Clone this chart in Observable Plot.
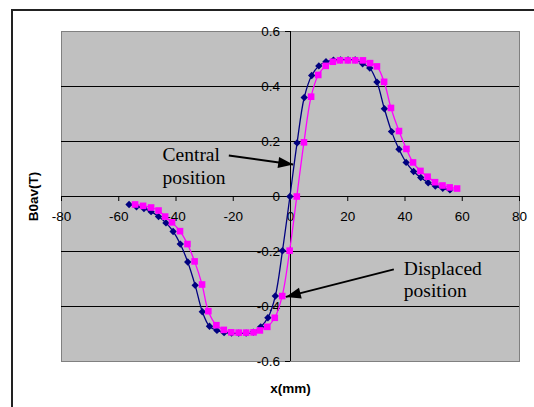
<!DOCTYPE html>
<html><head><meta charset="utf-8">
<script src="https://cdn.jsdelivr.net/npm/d3@7"></script>
<script src="https://cdn.jsdelivr.net/npm/@observablehq/plot@0.6"></script>
<style>
html,body{margin:0;padding:0;background:#fff;}
body{width:534px;height:407px;overflow:hidden;position:relative;font-family:"Liberation Sans",Arial,sans-serif;}
#chart{position:absolute;left:0;top:0;}
#outer{position:absolute;left:11px;top:9px;width:600px;height:460px;border:2px solid #222;box-sizing:border-box;pointer-events:none;}
</style></head>
<body><div id="chart"></div><div id="outer"></div>
<script>
// Central position (navy diamonds)
const centralX = [-56.4,-53.8,-51.2,-48.7,-46.1,-43.5,-41.0,-38.5,-35.9,-33.3,-30.8,-28.3,-25.7,-23.2,-20.6,-18.1,-15.5,-13.0,-10.4,-7.9,-5.3,-2.8,-0.2,2.3,4.8,7.4,9.9,12.4,15.0,17.5,20.1,22.6,25.2,27.7,30.2,32.8,35.3,37.9,40.4,43.0,45.5,48.1,50.6,53.2,55.7];
const centralY = [-0.029,-0.037,-0.044,-0.055,-0.073,-0.096,-0.127,-0.173,-0.238,-0.323,-0.419,-0.472,-0.487,-0.495,-0.497,-0.497,-0.497,-0.493,-0.474,-0.441,-0.362,-0.197,0.0,0.195,0.360,0.440,0.475,0.490,0.496,0.497,0.497,0.497,0.483,0.467,0.416,0.319,0.236,0.172,0.124,0.091,0.069,0.050,0.038,0.030,0.024];
// Displaced position (magenta squares)
const displacedX = [-54.3,-51.5,-48.7,-46.1,-43.8,-41.4,-38.6,-36.0,-33.5,-30.9,-28.7,-25.9,-23.3,-20.7,-18.1,-15.5,-12.9,-10.7,-8.1,-5.5,-2.9,-0.3,2.2,4.7,7.2,9.7,12.3,14.8,17.3,20.0,22.6,25.3,27.8,30.2,32.7,35.1,37.9,40.5,42.8,45.4,47.9,50.5,53.1,55.6,58.2];
const displacedY = [-0.029,-0.034,-0.040,-0.051,-0.073,-0.094,-0.126,-0.173,-0.236,-0.320,-0.417,-0.468,-0.485,-0.494,-0.495,-0.495,-0.494,-0.487,-0.474,-0.441,-0.362,-0.197,0.0,0.197,0.363,0.442,0.475,0.490,0.495,0.495,0.495,0.495,0.485,0.473,0.417,0.322,0.238,0.173,0.124,0.093,0.072,0.052,0.040,0.033,0.029];

const xTicks = [-80,-60,-40,-20,0,20,40,60,80];
const yTicks = [-0.6,-0.4,-0.2,0,0.2,0.4,0.6];
const gridY = [-0.4,-0.2,0.2,0.4];
const xLabel = "x(mm)";
const yLabel = "B0av(T)";

// Annotations (in data units)
const noteText = ["Central","position","Displaced","position"];
const noteX = [-44.7,-44.7,39.6,39.6];
const noteY = [0.153,0.069,-0.262,-0.341];
const arrowX1 = [-21.55, 36.1];
const arrowY1 = [0.149, -0.265];
const arrowX2 = [0.94, -1.64];
const arrowY2 = [0.116, -0.365];

const W = 534, H = 407;
const mL = 61, mR = 15, mT = 31, mB = 46;
const xDomain = [-80, 80], yDomain = [-0.6, 0.6];
const sx = d3.scaleLinear(xDomain, [mL, W - mR]);
const sy = d3.scaleLinear(yDomain, [H - mB, mT]);

const central = centralX.map((x, i) => ({x, y: centralY[i]}));
const displaced = displacedX.map((x, i) => ({x, y: displacedY[i]}));
const notes = noteText.map((t, i) => ({t, x: noteX[i], y: noteY[i]}));
const arrows = arrowX1.map((x1, i) => {
  const x2 = arrowX2[i], y1 = arrowY1[i], y2 = arrowY2[i];
  const dx = sx(x2) - sx(x1), dy = sy(y2) - sy(y1);
  return {x1, y1, x2, y2, angle: Math.atan2(dx, -dy) * 180 / Math.PI};
});

const diamond = {draw(c){ const r = 3.7; c.moveTo(0,-r); c.lineTo(r,0); c.lineTo(0,r); c.lineTo(-r,0); c.closePath(); }};
const square = {draw(c){ const h = 3.3; c.moveTo(-h,-h); c.lineTo(h,-h); c.lineTo(h,h); c.lineTo(-h,h); c.closePath(); }};
const head = {draw(c){ c.moveTo(0,0); c.lineTo(-5.5,15); c.lineTo(5.5,15); c.closePath(); }};

const chart = Plot.plot({
  width: W, height: H,
  marginLeft: mL, marginRight: mR, marginTop: mT, marginBottom: mB,
  x: {domain: xDomain},
  y: {domain: yDomain},
  style: {fontFamily: "'Liberation Sans', Arial, sans-serif", fontSize: "13.5px", background: "transparent", color: "black"},
  marks: [
    Plot.frame({fill: "#C0C0C0", stroke: "#808080"}),
    Plot.ruleY(gridY, {stroke: "#000", strokeWidth: 1}),
    Plot.ruleY([0], {stroke: "#000", strokeWidth: 1}),
    Plot.ruleX([0], {stroke: "#000", strokeWidth: 1}),
    Plot.axisX({ticks: xTicks, anchor: "bottom", dy: -(sy.range()[0] - sy(0)), tickSize: 5, tickPadding: 10, tickFormat: d => String(d), label: null, fontSize: 13.5}),
    Plot.axisY({ticks: yTicks, anchor: "left", dx: sx(0) - mL, tickSize: 5, tickPadding: 5.5, tickFormat: d => String(d), label: null, fontSize: 13.5}),
    Plot.line(central, {x: "x", y: "y", stroke: "#000080", strokeWidth: 1.3, curve: "catmull-rom"}),
    Plot.dot(central, {x: "x", y: "y", symbol: diamond, fill: "#000080", r: 3}),
    Plot.line(displaced, {x: "x", y: "y", stroke: "#FF00FF", strokeWidth: 1.3, curve: "catmull-rom"}),
    Plot.dot(displaced, {x: "x", y: "y", symbol: square, fill: "#FF00FF", r: 3}),
    Plot.link(arrows, {x1: "x1", y1: "y1", x2: "x2", y2: "y2", stroke: "#000", strokeWidth: 2}),
    Plot.dot(arrows, {x: "x2", y: "y2", symbol: head, rotate: "angle", fill: "#000", r: 3}),
    Plot.text(notes, {x: "x", y: "y", text: "t", textAnchor: "start", lineAnchor: "middle", fontFamily: "'Liberation Serif', 'Times New Roman', serif", fontSize: 19.5, fill: "#000"}),
    Plot.text([xLabel], {text: d => d, frameAnchor: "bottom", dy: 27, textAnchor: "middle", lineAnchor: "middle", fontWeight: "bold", fontSize: 13.5}),
    Plot.text([yLabel], {text: d => d, frameAnchor: "left", dx: -28, rotate: -90, textAnchor: "middle", lineAnchor: "middle", fontWeight: "bold", fontSize: 13.5})
  ]
});
document.getElementById("chart").appendChild(chart);
</script>
</body></html>
